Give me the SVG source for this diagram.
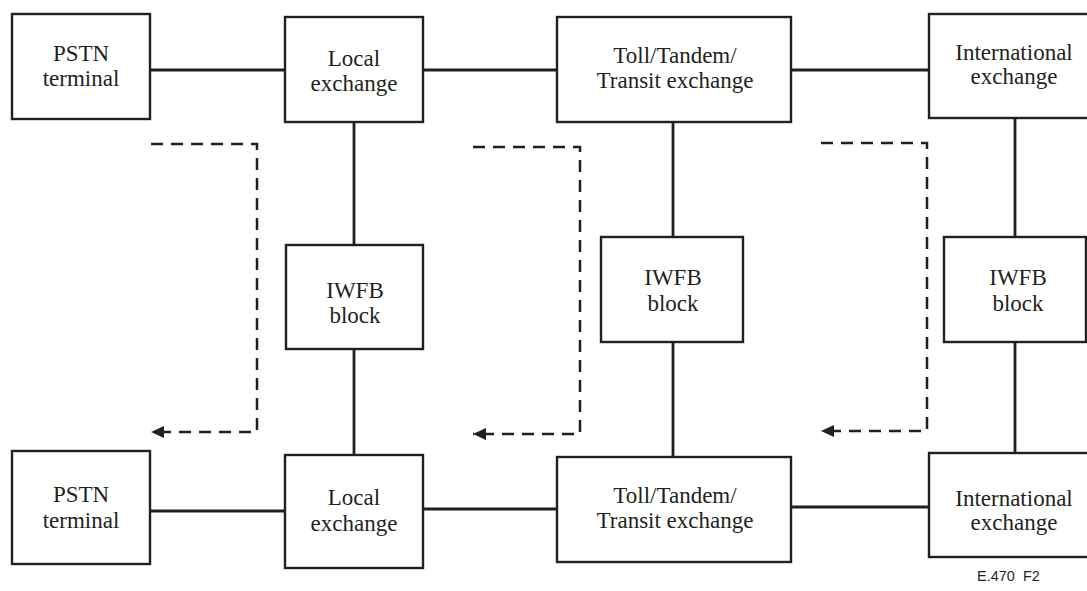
<svg xmlns="http://www.w3.org/2000/svg" width="1087" height="591" viewBox="0 0 1087 591">
  <style>
    .box { fill: #ffffff; stroke: #231f20; stroke-width: 2.4; }
    .link { fill: none; stroke: #231f20; stroke-width: 2.8; }
    .flow { fill: none; stroke: #231f20; stroke-width: 2.5; stroke-dasharray: 12 8; }
    .lbl { font-family: "Liberation Serif", "Times New Roman", serif; font-size: 23px; fill: #231f20; text-anchor: middle; }
    .tag { font-family: "Liberation Sans", Arial, sans-serif; font-size: 14.5px; fill: #231f20; }
  </style>
  <defs>
    <!-- filled arrowhead, tip at the end of the path -->
    <marker id="head" markerUnits="userSpaceOnUse" markerWidth="16" markerHeight="16" viewBox="0 0 16 16" refX="14" refY="8" orient="auto">
      <path d="M1,2 L14,8 L1,14 Z" fill="#231f20"/>
    </marker>
  </defs>
  <rect width="1087" height="591" fill="#ffffff"/>

  <!-- connectors -->
  <g id="connectors">
    <!-- top row -->
    <line class="link" x1="150" y1="70" x2="285" y2="70"/>
    <line class="link" x1="423" y1="70" x2="557" y2="70"/>
    <line class="link" x1="791" y1="70" x2="929" y2="70"/>
    <!-- bottom row -->
    <line class="link" x1="150" y1="511" x2="285" y2="511"/>
    <line class="link" x1="423" y1="509" x2="557" y2="509"/>
    <line class="link" x1="791" y1="507" x2="929" y2="507"/>
    <!-- verticals through the IWFB blocks -->
    <line class="link" x1="354" y1="122" x2="354" y2="245"/>
    <line class="link" x1="354" y1="349" x2="354" y2="455"/>
    <line class="link" x1="673" y1="122" x2="673" y2="237"/>
    <line class="link" x1="673" y1="342" x2="673" y2="457"/>
    <line class="link" x1="1015" y1="118" x2="1015" y2="237"/>
    <line class="link" x1="1015" y1="342" x2="1015" y2="453"/>
    <!-- dashed return paths -->
    <path class="flow" d="M151,144 H257 V432 H151" marker-end="url(#head)"/>
    <path class="flow" d="M473,147 H580 V434 H473" marker-end="url(#head)"/>
    <path class="flow" d="M821,143 H927 V431 H821" marker-end="url(#head)"/>
  </g>

  <!-- top row nodes -->
  <g id="pstn-top">
    <rect class="box" x="12" y="14" width="138" height="105"/>
    <text class="lbl" x="81" y="61">PSTN</text>
    <text class="lbl" x="81" y="86">terminal</text>
  </g>
  <g id="local-top">
    <rect class="box" x="285" y="17" width="138" height="105"/>
    <text class="lbl" x="354" y="66">Local</text>
    <text class="lbl" x="354" y="91">exchange</text>
  </g>
  <g id="toll-top">
    <rect class="box" x="557" y="17" width="234" height="105"/>
    <text class="lbl" x="675" y="63">Toll/Tandem/</text>
    <text class="lbl" x="675" y="88">Transit exchange</text>
  </g>
  <g id="intl-top">
    <rect class="box" x="929" y="14" width="170" height="104"/>
    <text class="lbl" x="1014" y="60">International</text>
    <text class="lbl" x="1014" y="84">exchange</text>
  </g>

  <!-- IWFB blocks -->
  <g id="iwfb-local">
    <rect class="box" x="286" y="245" width="137" height="104"/>
    <text class="lbl" x="355" y="298">IWFB</text>
    <text class="lbl" x="355" y="323">block</text>
  </g>
  <g id="iwfb-toll">
    <rect class="box" x="601" y="237" width="142" height="105"/>
    <text class="lbl" x="673" y="285">IWFB</text>
    <text class="lbl" x="673" y="311">block</text>
  </g>
  <g id="iwfb-intl">
    <rect class="box" x="944" y="237" width="142" height="105"/>
    <text class="lbl" x="1018" y="285">IWFB</text>
    <text class="lbl" x="1018" y="311">block</text>
  </g>

  <!-- bottom row nodes -->
  <g id="pstn-bottom">
    <rect class="box" x="12" y="451" width="138" height="113"/>
    <text class="lbl" x="81" y="502">PSTN</text>
    <text class="lbl" x="81" y="528">terminal</text>
  </g>
  <g id="local-bottom">
    <rect class="box" x="285" y="455" width="138" height="113"/>
    <text class="lbl" x="354" y="505">Local</text>
    <text class="lbl" x="354" y="531">exchange</text>
  </g>
  <g id="toll-bottom">
    <rect class="box" x="557" y="457" width="234" height="105"/>
    <text class="lbl" x="675" y="503">Toll/Tandem/</text>
    <text class="lbl" x="675" y="528">Transit exchange</text>
  </g>
  <g id="intl-bottom">
    <rect class="box" x="929" y="453" width="170" height="104"/>
    <text class="lbl" x="1014" y="506">International</text>
    <text class="lbl" x="1014" y="530">exchange</text>
  </g>

  <text class="tag" x="977" y="581" xml:space="preserve">E.470  F2</text>
</svg>
